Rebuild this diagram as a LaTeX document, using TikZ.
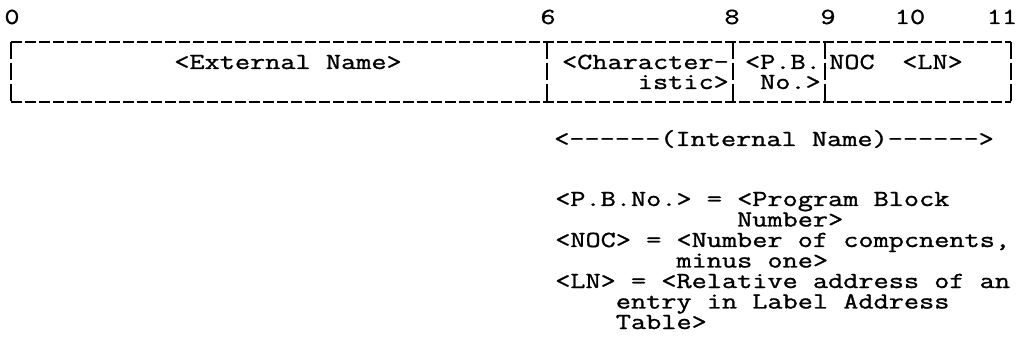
\documentclass[tikz,border=0pt]{standalone}
\usepackage{fontspec}
\newfontfamily\typewriter[FakeStretch=1.28,FakeBold=1.2]{Latin Modern Mono}
\newcommand\hy{-\kern0pt}
\tikzset{
  field/.style={font=\typewriter\fontsize{23}{20}\selectfont, inner sep=0pt,
    text height=14pt, text depth=3pt},
  frame/.style={line width=2.6pt, dash pattern=on 11pt off 3pt},
  divider/.style={line width=2.6pt, dash pattern=on 17pt off 4pt}
}

\begin{document}
\begin{tikzpicture}[x=1pt,y=-1pt]
    \useasboundingbox (0,0) rectangle (1018,358);
    % byte offsets
    \foreach \pos/\num in {12/0,548/6,732/8,828/9,910/10,1002/11}
      \node[field, anchor=base] (off\num) at (\pos,24) {\num};
    % outline of the entry
    \draw[frame] (11,42) -- (1011,42);
    \draw[frame] (11,102) -- (1011,102);
    \foreach \x in {11,547,733,825,1011}
      \draw[divider] (\x,42) -- (\x,102);
    % fields
    \node[field, anchor=base] (ext) at (288,69) {<External Name>};
    \node[field, anchor=base east] (chr1) at (729,69) {<Character\hy};
    \node[field, anchor=base east] (chr2) at (729,89) {istic>};
    \node[field, anchor=base east] (pb1) at (821,69) {<P.B.};
    \node[field, anchor=base east] (pb2) at (821,89) {No.>};
    \node[field, anchor=base west] (noc) at (829,69) {NOC};
    \node[field, anchor=base west] (ln) at (902,69) {<LN>};
    % internal name span
    \node[field, anchor=base west] (int) at (554,146) {<\hy\hy\hy\hy\hy\hy(Internal Name)\hy\hy\hy\hy\hy\hy>};
    % definitions
    \node[field, anchor=base west] (def1) at (555,206) {<P.B.No.> = <Program Block};
    \node[field, anchor=base west] (def2) at (555,226.5) {\phantom{<P.B.No.> = }Number>};
    \node[field, anchor=base west] (def3) at (555,247) {<NOC> = <Number of compcnents,};
    \node[field, anchor=base west] (def4) at (555,267.5) {\phantom{<NOC> = }minus one>};
    \node[field, anchor=base west] (def5) at (555,288) {<LN> = <Relative address of an};
    \node[field, anchor=base west] (def6) at (555,308.5) {\phantom{<LN>}entry in Label Address};
    \node[field, anchor=base west] (def7) at (555,329) {\phantom{<LN>}Table>};
\end{tikzpicture}
\end{document}
